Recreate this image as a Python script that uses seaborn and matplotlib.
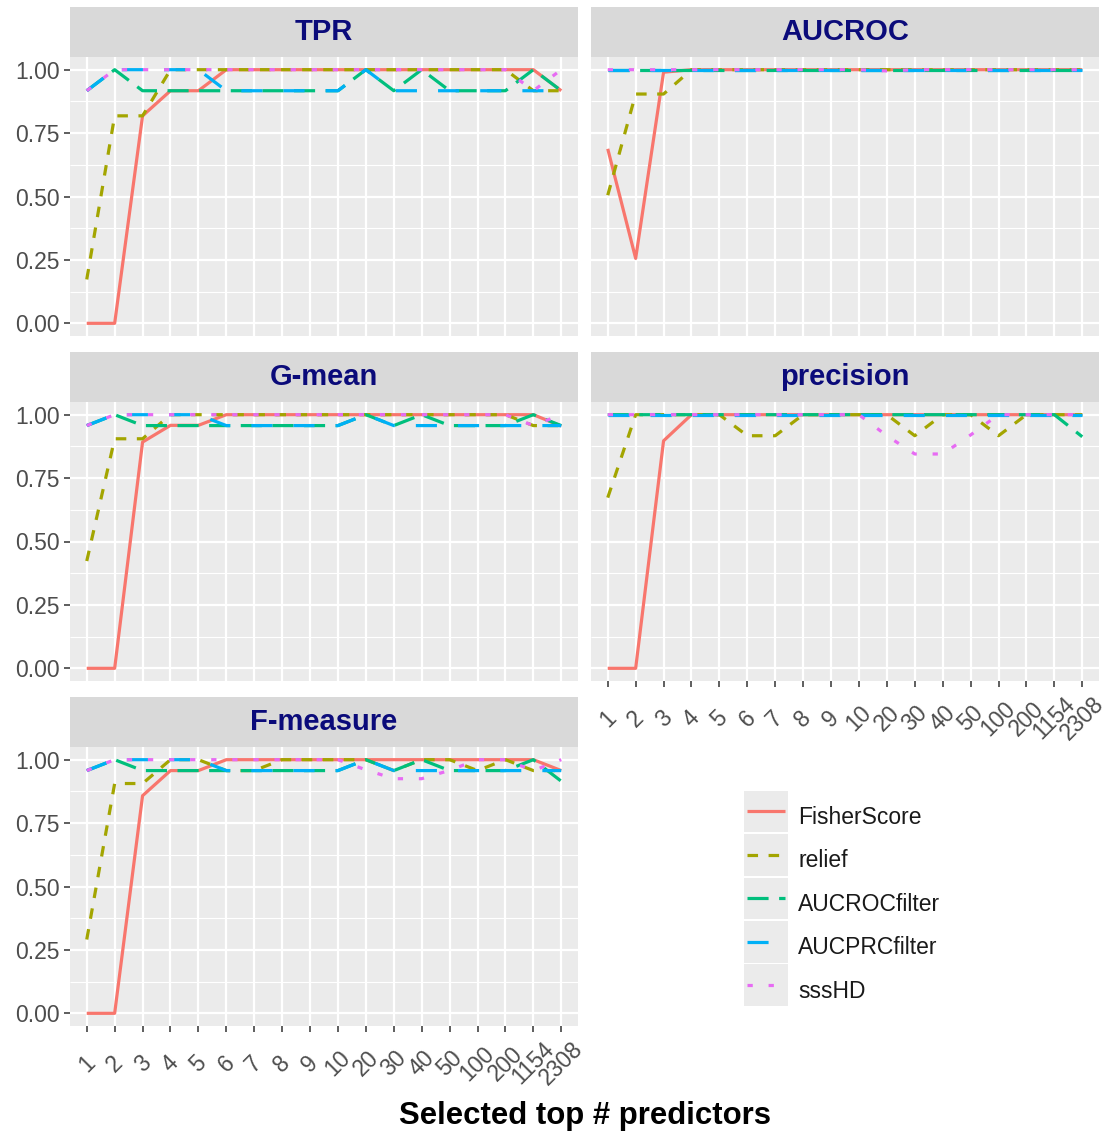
import matplotlib
matplotlib.use("Agg")
import matplotlib.pyplot as plt
from matplotlib.patches import Rectangle
from matplotlib.transforms import IdentityTransform
import pandas as pd
import seaborn as sns

top_n = ["1", "2", "3", "4", "5", "6", "7", "8", "9", "10",
         "20", "30", "40", "50", "100", "200", "1154", "2308"]
methods = ["FisherScore", "relief", "AUCROCfilter", "AUCPRCfilter", "sssHD"]
metrics = ["TPR", "AUCROC", "G-mean", "precision", "F-measure"]

# TPR
tpr_fisher = [0, 0, 0.818, 0.917, 0.917, 1, 1, 1, 1, 1, 1, 1, 1, 1, 1, 1, 1, 0.917]
tpr_relief = [0.173, 0.818, 0.818, 1, 1, 1, 1, 1, 1, 1, 1, 1, 1, 1, 1, 1, 0.917, 0.917]
tpr_aucroc = [0.917, 1, 0.917, 0.917, 0.917, 0.917, 0.917, 0.917, 0.917, 0.917,
              1, 0.917, 1, 0.917, 0.917, 0.917, 1, 0.917]
tpr_aucprc = [0.917, 1, 1, 1, 1, 0.917, 0.917, 0.917, 0.917, 0.917,
              1, 0.917, 0.917, 0.917, 0.917, 0.917, 0.917, 0.917]
tpr_ssshd = [0.917, 1, 1, 1, 1, 1, 1, 1, 1, 1, 1, 1, 1, 1, 1, 1, 0.917, 1]

# AUCROC
auc_fisher = [0.688, 0.256, 0.99, 1, 1, 1, 1, 1, 1, 1, 1, 1, 1, 1, 1, 1, 1, 1]
auc_relief = [0.505, 0.904, 0.904, 1, 1, 1, 1, 1, 1, 1, 1, 1, 1, 1, 1, 1, 1, 1]
auc_aucroc = [1, 1, 1, 1, 1, 1, 1, 1, 1, 1, 1, 1, 1, 1, 1, 1, 1, 1]
auc_aucprc = [1, 1, 1, 1, 1, 1, 1, 1, 1, 1, 1, 1, 1, 1, 1, 1, 1, 1]
auc_ssshd = [1, 1, 1, 1, 1, 1, 1, 1, 1, 1, 0.995, 1, 1, 1, 1, 1, 1, 1]

# G-mean
gm_fisher = [0, 0, 0.892, 0.958, 0.958, 1, 1, 1, 1, 1, 1, 1, 1, 1, 1, 1, 1, 0.955]
gm_relief = [0.423, 0.905, 0.905, 1, 1, 1, 1, 1, 1, 1, 1, 1, 1, 1, 1, 1, 0.957, 0.957]
gm_aucroc = [0.957, 1, 0.957, 0.957, 0.957, 0.957, 0.957, 0.957, 0.957, 0.957,
             1, 0.957, 1, 0.957, 0.957, 0.957, 1, 0.957]
gm_aucprc = [0.957, 1, 1, 1, 1, 0.957, 0.957, 0.957, 0.957, 0.957,
             1, 0.957, 0.957, 0.957, 0.957, 0.957, 0.957, 0.957]
gm_ssshd = [0.957, 1, 1, 1, 1, 1, 1, 1, 1, 1, 1, 1, 1, 1, 1, 1, 0.957, 1]

# precision
prec_fisher = [0, 0, 0.897, 1, 1, 1, 1, 1, 1, 1, 1, 1, 1, 1, 1, 1, 1, 1]
prec_relief = [0.673, 1, 1, 1, 1, 0.917, 0.917, 1, 1, 1, 1, 0.917, 1, 1, 0.917, 1, 1, 1]
prec_aucroc = [1, 1, 1, 1, 1, 1, 1, 1, 1, 1, 1, 1, 1, 1, 1, 1, 1, 0.913]
prec_aucprc = [1, 1, 1, 1, 1, 1, 1, 1, 1, 1, 1, 1, 1, 1, 1, 1, 1, 1]
prec_ssshd = [1, 1, 1, 1, 1, 1, 1, 1, 1, 1, 0.917, 0.845, 0.845, 0.92, 1, 1, 1, 1]

# F-measure
f_fisher = [0, 0, 0.858, 0.957, 0.957, 1, 1, 1, 1, 1, 1, 1, 1, 1, 1, 1, 1, 0.957]
f_relief = [0.291, 0.906, 0.906, 1, 1, 0.957, 0.957, 1, 1, 1, 1, 0.957, 1, 1, 0.957, 1, 0.957, 0.957]
f_aucroc = [0.957, 1, 0.957, 0.957, 0.957, 0.957, 0.957, 0.957, 0.957, 0.957,
            1, 0.957, 1, 0.957, 0.957, 0.957, 1, 0.915]
f_aucprc = [0.957, 1, 1, 1, 1, 0.957, 0.957, 0.957, 0.957, 0.957,
            1, 0.957, 0.957, 0.957, 0.957, 0.957, 0.957, 0.957]
f_ssshd = [0.957, 1, 1, 1, 1, 1, 1, 1, 1, 1, 0.96, 0.925, 0.925, 0.958, 1, 1, 0.957, 1]

series = {
    "TPR": [tpr_fisher, tpr_relief, tpr_aucroc, tpr_aucprc, tpr_ssshd],
    "AUCROC": [auc_fisher, auc_relief, auc_aucroc, auc_aucprc, auc_ssshd],
    "G-mean": [gm_fisher, gm_relief, gm_aucroc, gm_aucprc, gm_ssshd],
    "precision": [prec_fisher, prec_relief, prec_aucroc, prec_aucprc, prec_ssshd],
    "F-measure": [f_fisher, f_relief, f_aucroc, f_aucprc, f_ssshd],
}

rows = []
for metric in metrics:
    for method, vals in zip(methods, series[metric]):
        for i, (n, v) in enumerate(zip(top_n, vals)):
            rows.append({"metric": metric, "method": method, "n": n, "pos": i, "value": v})
df = pd.DataFrame(rows)

palette = dict(zip(methods, ["#F8766D", "#A3A500", "#00BF7D", "#00B0F6", "#E76BF3"]))
dashes = {"FisherScore": "", "relief": (3.3, 3.3), "AUCROCfilter": (6.6, 3.3),
          "AUCPRCfilter": (6.6, 6.6), "sssHD": (1.65, 4.95)}

plt.rcParams["font.family"] = ["Liberation Sans", "DejaVu Sans"]
plt.rcParams["lines.solid_capstyle"] = "butt"
plt.rcParams["lines.dash_capstyle"] = "butt"

W, H = 1111, 1135
fig = plt.figure(figsize=(W / 100, H / 100), dpi=100)


def box(l, t, r, b):
    return [l / W, 1 - b / H, (r - l) / W, (b - t) / H]


panel_px = {
    "TPR": (70, 57, 578, 336),
    "AUCROC": (591, 57, 1099, 336),
    "G-mean": (70, 402, 578, 681),
    "precision": (591, 402, 1099, 681),
    "F-measure": (70, 747, 578, 1026),
}
left_col = ["TPR", "G-mean", "F-measure"]
bottom_row = ["precision", "F-measure"]
tick_fs = 16.5

axes = {}
for metric in metrics:
    l, t, r, b = panel_px[metric]
    ax = fig.add_axes(box(l, t, r, b))
    sns.lineplot(data=df[df["metric"] == metric], x="pos", y="value",
                 hue="method", style="method", hue_order=methods, style_order=methods,
                 palette=palette, dashes=dashes, linewidth=2.3, errorbar=None,
                 legend=False, sort=False, ax=ax)
    ax.set_xlim(-0.6, 17.6)
    ax.set_ylim(-0.05, 1.05)
    ax.set_facecolor("#EBEBEB")
    ax.set_xlabel("")
    ax.set_ylabel("")
    ax.set_xticks(range(len(top_n)))
    ax.set_yticks([0, 0.25, 0.5, 0.75, 1.0])
    ax.set_yticks([0.125, 0.375, 0.625, 0.875], minor=True)
    ax.grid(which="major", color="white", linewidth=1.6)
    ax.grid(which="minor", axis="y", color="white", linewidth=0.8)
    ax.set_axisbelow(True)
    for s in ax.spines.values():
        s.set_visible(False)
    ax.tick_params(which="minor", length=0)
    ax.tick_params(which="major", color="#333333", width=1.1, length=4,
                   labelcolor="#4D4D4D", labelsize=tick_fs)
    if metric in left_col:
        ax.set_yticklabels(["0.00", "0.25", "0.50", "0.75", "1.00"])
        ax.tick_params(axis="y", pad=3.5)
    else:
        ax.tick_params(axis="y", left=False, labelleft=False)
    if metric in bottom_row:
        ax.set_xticklabels(top_n, rotation=45, ha="center", va="center")
        ax.tick_params(axis="x", pad=23)
    else:
        ax.tick_params(axis="x", bottom=False, labelbottom=False)

    sax = fig.add_axes(box(l, t - 50, r, t))
    sax.set_facecolor("#D9D9D9")
    sax.set_xticks([])
    sax.set_yticks([])
    for s in sax.spines.values():
        s.set_visible(False)
    sax.text(0.5, 0.5, metric, ha="center", va="center", fontsize=21,
             fontweight="bold", color="#0B0B7A", transform=sax.transAxes)
    axes[metric] = ax

fig.text(585 / W, 1 - 1116 / H, "Selected top # predictors", ha="center",
         va="center", fontsize=22.4, fontweight="bold", color="black")

handles = axes["TPR"].get_lines()[:len(methods)]
leg = fig.legend(handles, methods, loc="upper left",
                 bbox_to_anchor=(747 / W, 1 - 799 / H), frameon=False,
                 fontsize=tick_fs, handlelength=1.66, handleheight=2.0,
                 labelspacing=0.35, handletextpad=0.57, borderpad=0,
                 borderaxespad=0)
for txt in leg.get_texts():
    txt.set_color("#1A1A1A")

# grey key backgrounds like ggplot
fig.canvas.draw()
renderer = fig.canvas.get_renderer()
key_h = 41.5
for line in leg.get_lines():
    bb = line.get_window_extent(renderer)
    cy = (bb.y0 + bb.y1) / 2
    fig.add_artist(Rectangle((bb.x0 - 3, cy - key_h / 2), bb.width + 6, key_h,
                             facecolor="#EBEBEB", edgecolor="none",
                             transform=IdentityTransform(), zorder=0))

fig.savefig("out.png", dpi=100)
